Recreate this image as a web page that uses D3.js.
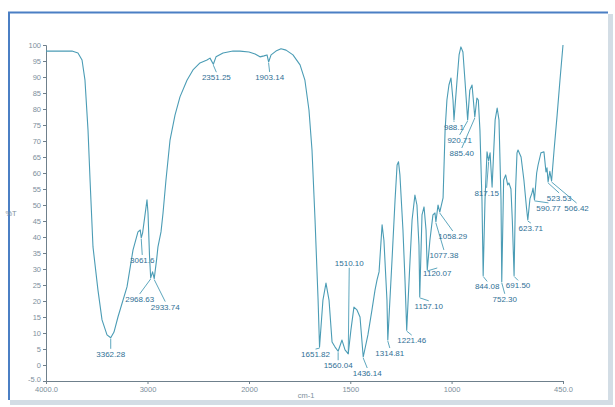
<!DOCTYPE html>
<html>
<head>
<meta charset="utf-8">
<script src="https://cdn.jsdelivr.net/npm/d3@7/dist/d3.min.js"></script>
<style>
  html, body { margin: 0; padding: 0; background: #ffffff; }
  svg { display: block; }
  text { font-family: "Liberation Sans", Arial, sans-serif; }
</style>
</head>
<body>
<svg id="chart" width="615" height="407"></svg>
<script>
// IR spectrum: wavenumber (cm-1) and transmittance (%T)
const wavenumber = [
  4000, 3862, 3744, 3685, 3645, 3616, 3586, 3566, 3537, 3488, 3448, 3399, 3362.28, 3330, 3291,
  3202, 3143, 3094, 3071, 3061.6, 3048, 3005, 2995, 2980, 2968.63, 2950, 2933.74, 2910, 2897,
  2867, 2847, 2818, 2778, 2729, 2680, 2611, 2552, 2483, 2414, 2384, 2351.25, 2325, 2256, 2158,
  2089, 2000, 1970, 1946, 1926, 1911, 1903.14, 1891, 1867, 1842, 1817, 1783, 1748, 1724, 1704,
  1689, 1674, 1659, 1651.82, 1635, 1620, 1605, 1590, 1575, 1560.04, 1541, 1526, 1510.10, 1497,
  1482, 1467, 1452, 1436.14, 1413, 1393, 1378, 1368, 1358, 1343, 1334, 1319, 1314.81, 1294,
  1279, 1269, 1262, 1255, 1240, 1230, 1221.46, 1205, 1195, 1181, 1171, 1161, 1157.10, 1146,
  1136, 1126, 1120.07, 1107, 1092, 1082, 1077.38, 1067, 1058.29, 1042, 1032, 1023, 1013, 1003,
  993, 988.1, 973, 963, 954, 944, 934, 924, 920.71, 910, 899, 885.40, 875, 868, 860, 850,
  844.08, 835, 825, 817.15, 810, 800, 785, 775, 766, 756, 752.30, 743, 733, 723, 717, 707, 700,
  691.50, 684, 677, 672, 657, 643, 630, 623.71, 613, 603, 598, 590.77, 580, 573, 559, 544, 534,
  529, 523.53, 515, 506.42, 494, 479, 465, 450
];
const transmittance = [
  98.1, 98.1, 98.1, 97.5, 95.3, 89.0, 73.4, 57.8, 36.9, 23.4, 14.1, 9.4, 8.5, 10.3, 15.0,
  24.4, 35.9, 41.6, 42.2, 39.7, 41.3, 51.6, 47.5, 34.0, 27.2, 29.1, 27.0, 33.0, 36.9,
  41.6, 47.5, 57.8, 70.3, 78.1, 83.8, 89.0, 92.2, 94.4, 95.3, 95.9, 94.0, 96.3, 97.5, 98.1,
  98.1, 97.8, 97.2, 96.3, 96.6, 96.9, 94.7, 96.9, 98.1, 98.8, 98.4, 96.9, 93.8, 89.0, 79.7,
  67.2, 45.3, 20.3, 5.6, 20.3, 25.6, 20.3, 7.2, 5.6, 4.3, 7.8, 4.7, 3.5, 10.9,
  18.1, 17.2, 15.0, 2.5, 9.4, 17.2, 23.4, 26.6, 29.1, 43.8, 39.0, 20.3, 7.8, 32.8,
  51.6, 62.5, 63.5, 59.4, 42.2, 26.6, 10.9, 32.8, 45.3, 53.1, 50.0, 37.5, 21.3, 46.9,
  49.4, 42.2, 29.7, 39.0, 46.9, 47.5, 44.7, 50.0, 47.8, 52.2, 73.4, 82.8, 87.5, 89.7,
  82.8, 76.6, 89.0, 96.9, 99.4, 97.8, 89.0, 79.7, 76.6, 85.9, 87.5, 77.5, 83.4, 82.8, 73.4, 51.6,
  28.0, 51.6, 66.6, 63.8, 66.3, 55.6, 76.6, 80.3, 76.6, 51.6, 26.0, 57.8, 59.4, 56.3, 56.9, 55.0, 45.0,
  28.0, 55.0, 66.3, 67.2, 65.0, 57.8, 49.0, 45.3, 52.0, 53.8, 55.3, 51.6, 60.0, 62.5, 66.3, 66.6, 60.3,
  61.6, 57.2, 60.5, 57.5, 67.2, 78.1, 89.0, 100.0
];

// Picked peaks
const peakWavenumber = [
  3362.28, 3061.6, 2968.63, 2933.74, 2351.25, 1903.14, 1651.82, 1560.04, 1510.10, 1436.14,
  1314.81, 1221.46, 1157.10, 1120.07, 1077.38, 1058.29, 988.1, 920.71, 885.40, 844.08,
  817.15, 752.30, 691.50, 623.71, 590.77, 523.53, 506.42
];
const peakLabel = [
  "3362.28", "3061.6", "2968.63", "2933.74", "2351.25", "1903.14", "1651.82", "1560.04", "1510.10", "1436.14",
  "1314.81", "1221.46", "1157.10", "1120.07", "1077.38", "1058.29", "988.1", "920.71", "885.40", "844.08",
  "817.15", "752.30", "691.50", "623.71", "590.77", "523.53", "506.42"
];

const yTicks = d3.range(-5, 101, 5);
const xTicks = [4000, 3000, 2000, 1500, 1000, 450];
const xTickText = ["4000.0", "3000", "2000", "1500", "1000", "450.0"];

// Label placement (offset of label baseline from the peak point)
const labelOffset = [
  [0, 19], [1, 25], [-11, 24], [11, 31], [3, 16], [1, 18], [-4, 10], [0, 17], [1, -88], [4, 19],
  [2, 16], [5, 13], [9, 12], [10, 6], [8, 36], [13, 27], [0, 10], [-8, 23], [-13, 39], [4, 14],
  [-2, 35], [3, 20], [4, 13], [3, 11], [14, 11], [11, 19], [25, 30]
];

const svg = d3.select("#chart");

// Frame with soft shadow
svg.append("rect").attr("x", 10).attr("y", 14).attr("width", 603).attr("height", 391)
  .attr("fill", "#d3dde5");
svg.append("rect").attr("x", 8).attr("y", 12).attr("width", 600).attr("height", 388)
  .attr("fill", "#ffffff");
svg.append("path").attr("d", "M9,400 V12.5 H608")
  .attr("fill", "none").attr("stroke", "#4b7fc4").attr("stroke-width", 2);

// Wavenumber axis is expanded 2x below 2000 cm-1
const x = d3.scaleLinear().domain([4000, 2000, 450]).range([46, 249, 563]);
const y = d3.scaleLinear().domain([-5, 100]).range([381, 45]);

const axisColor = "#7d8f9c";

const yAxis = svg.append("g").attr("transform", "translate(46,0)")
  .call(d3.axisLeft(y).tickValues(yTicks).tickSize(3).tickPadding(2)
    .tickFormat(d => d === -5 ? "-5.0" : d));
const xAxis = svg.append("g").attr("transform", "translate(0,381)")
  .call(d3.axisBottom(x).tickValues(xTicks).tickSize(3).tickPadding(3)
    .tickFormat((d, i) => xTickText[i]));

[yAxis, xAxis].forEach(g => {
  g.select(".domain").attr("stroke", "#6f808c").attr("stroke-width", 1);
  g.selectAll(".tick line").attr("stroke", "#6f808c");
  g.selectAll(".tick text").attr("fill", axisColor)
    .style("font-size", "7.5px").style("font-family", "'Liberation Sans', Arial, sans-serif");
});
// keep the lowest y label clear of the first x label
yAxis.selectAll(".tick text").filter(d => d === -5).attr("dy", "0.1em");

svg.append("text").attr("x", 11).attr("y", 216).attr("text-anchor", "middle")
  .attr("fill", axisColor).style("font-size", "7.5px").text("%T");
svg.append("text").attr("x", 306).attr("y", 398).attr("text-anchor", "middle")
  .attr("fill", axisColor).style("font-size", "7.5px").text("cm-1");

// Spectrum trace
const points = wavenumber.map((w, i) => [w, transmittance[i]]);
const line = d3.line().x(d => x(d[0])).y(d => y(d[1]));
svg.append("path").datum(points).attr("d", line)
  .attr("fill", "none").attr("stroke", "#4b9cb5").attr("stroke-width", 1.1)
  .attr("stroke-linejoin", "round");

// Peak labels with leader lines
const labelColor = "#2f6f95";
peakWavenumber.forEach((w, i) => {
  const idx = wavenumber.indexOf(w);
  const px = x(w), py = y(transmittance[idx]);
  const tx = px + labelOffset[i][0], ty = py + labelOffset[i][1];
  const above = labelOffset[i][1] < 0;
  svg.append("line")
    .attr("x1", px).attr("y1", above ? py : py + 1)
    .attr("x2", tx).attr("y2", above ? ty + 2 : ty - 8)
    .attr("stroke", "#4b9cb5").attr("stroke-width", 0.9);
  svg.append("text").attr("x", tx).attr("y", ty).attr("text-anchor", "middle")
    .attr("fill", labelColor).style("font-size", "8px").text(peakLabel[i]);
});
</script>
</body>
</html>
